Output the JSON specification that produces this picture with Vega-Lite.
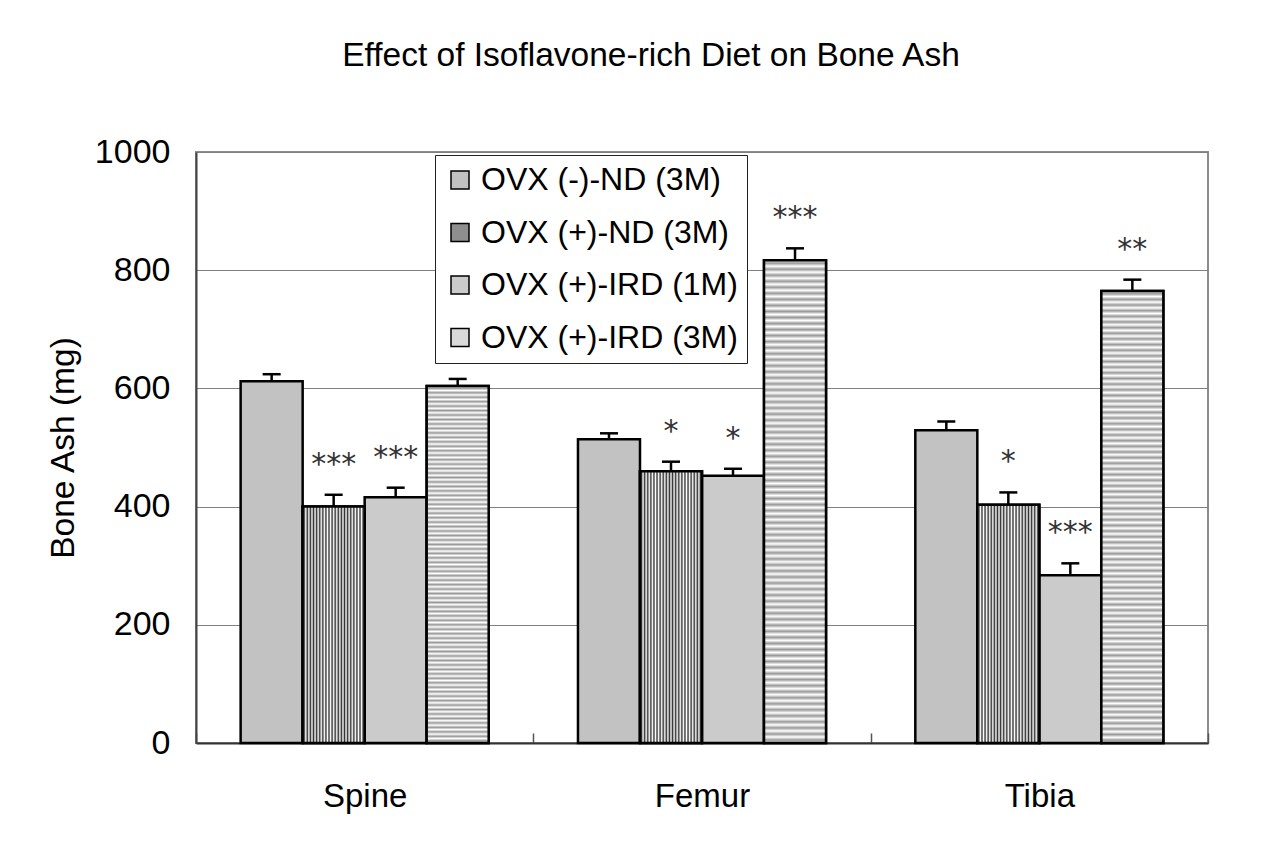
{
  "$schema": "https://vega.github.io/schema/vega-lite/v6.json",
  "width": 1012,
  "height": 591,
  "autosize": {"type": "none"},
  "padding": {"left": 196, "top": 152, "right": 75, "bottom": 99},
  "background": "white",
  "title": {"text": "Effect of Isoflavone-rich Diet on Bone Ash", "fontSize": 33.5, "fontWeight": "normal", "anchor": "middle", "frame": "group", "dx": -51, "offset": 36, "baseline": "alphabetic", "color": "black"},
  "config": {
    "font": "Liberation Sans",
    "view": {"stroke": "#8c8c8c", "strokeWidth": 2},
    "axis": {"labelColor": "black", "titleColor": "black"}
  },
  "data": {"values": [
    {"part": "Spine", "group": "OVX (-)-ND (3M)", "value": 612, "hi": 624, "sig": ""},
    {"part": "Spine", "group": "OVX (+)-ND (3M)", "value": 400, "hi": 420, "sig": "***"},
    {"part": "Spine", "group": "OVX (+)-IRD (1M)", "value": 416, "hi": 432, "sig": "***"},
    {"part": "Spine", "group": "OVX (+)-IRD (3M)", "value": 604, "hi": 616, "sig": ""},
    {"part": "Femur", "group": "OVX (-)-ND (3M)", "value": 514, "hi": 524, "sig": ""},
    {"part": "Femur", "group": "OVX (+)-ND (3M)", "value": 460, "hi": 476, "sig": "*"},
    {"part": "Femur", "group": "OVX (+)-IRD (1M)", "value": 452, "hi": 464, "sig": "*"},
    {"part": "Femur", "group": "OVX (+)-IRD (3M)", "value": 817, "hi": 837, "sig": "***"},
    {"part": "Tibia", "group": "OVX (-)-ND (3M)", "value": 529, "hi": 544, "sig": ""},
    {"part": "Tibia", "group": "OVX (+)-ND (3M)", "value": 403, "hi": 424, "sig": "*"},
    {"part": "Tibia", "group": "OVX (+)-IRD (1M)", "value": 284, "hi": 304, "sig": "***"},
    {"part": "Tibia", "group": "OVX (+)-IRD (3M)", "value": 765, "hi": 784, "sig": "**"}
  ]},
  "encoding": {
    "x": {"field": "part", "type": "nominal", "sort": ["Spine", "Femur", "Tibia"],
      "scale": {"domain": ["Spine", "Femur", "Tibia"], "paddingInner": 0, "paddingOuter": 0},
      "axis": {"title": null, "labelAngle": 0, "labelFontSize": 33, "labelPadding": 47, "tickBand": "extent", "tickSize": -10, "tickColor": "#555", "tickWidth": 1.5, "domainColor": "#333", "domainWidth": 2, "grid": false}},
    "xOffset": {"field": "group", "type": "nominal",
      "scale": {"domain": ["OVX (-)-ND (3M)", "OVX (+)-ND (3M)", "OVX (+)-IRD (1M)", "OVX (+)-IRD (3M)"], "paddingInner": 0, "paddingOuter": 0.72}},
    "y": {"field": "value", "type": "quantitative",
      "scale": {"domain": [0, 1000], "nice": false},
      "axis": {"title": "Bone Ash (mg)", "titleFontSize": 33.5, "titleFontWeight": "normal", "titleX": -123, "titleY": 295.5, "titleBaseline": "alphabetic", "titleAngle": -90,
        "values": [0, 200, 400, 600, 800, 1000], "format": "d", "labelFontSize": 34, "labelPadding": 26, "ticks": false,
        "grid": true, "gridColor": "#808080", "gridWidth": 1, "domainColor": "#444", "domainWidth": 2}}
  },
  "layer": [
    {
      "mark": {"type": "bar", "stroke": "black", "strokeWidth": 2.5},
      "encoding": {
        "color": {"field": "group", "type": "nominal",
          "scale": {"domain": ["OVX (-)-ND (3M)", "OVX (+)-ND (3M)", "OVX (+)-IRD (1M)", "OVX (+)-IRD (3M)"],
            "range": ["#c2c2c2", "#8e8e8e", "#cbcbcb", "#dadada"]},
          "legend": {"title": null, "orient": "none", "legendX": 239, "legendY": 3, "direction": "vertical",
            "padding": 9, "strokeColor": "#222", "fillColor": "white",
            "labelFontSize": 32, "labelColor": "black", "labelOffset": 5, "labelLimit": 400,
            "symbolType": "square", "symbolSize": 324, "symbolStrokeColor": "black", "symbolStrokeWidth": 1.5, "symbolOpacity": 1,
            "rowPadding": 20.5}}
      }
    },
    {
      "transform": [{"filter": "datum.group === 'OVX (+)-ND (3M)'"}],
      "mark": {"type": "bar", "stroke": "black", "strokeWidth": 2.5,
        "fill": {"gradient": "linear", "x1": 0, "y1": 0, "x2": 1, "y2": 0, "stops": [
          {"offset": 0, "color": "#ffffff"}, {"offset": 0.025, "color": "#333333"},
          {"offset": 0.05, "color": "#ffffff"}, {"offset": 0.075, "color": "#333333"},
          {"offset": 0.1, "color": "#ffffff"}, {"offset": 0.125, "color": "#333333"},
          {"offset": 0.15, "color": "#ffffff"}, {"offset": 0.175, "color": "#333333"},
          {"offset": 0.2, "color": "#ffffff"}, {"offset": 0.225, "color": "#333333"},
          {"offset": 0.25, "color": "#ffffff"}, {"offset": 0.275, "color": "#333333"},
          {"offset": 0.3, "color": "#ffffff"}, {"offset": 0.325, "color": "#333333"},
          {"offset": 0.35, "color": "#ffffff"}, {"offset": 0.375, "color": "#333333"},
          {"offset": 0.4, "color": "#ffffff"}, {"offset": 0.425, "color": "#333333"},
          {"offset": 0.45, "color": "#ffffff"}, {"offset": 0.475, "color": "#333333"},
          {"offset": 0.5, "color": "#ffffff"}, {"offset": 0.525, "color": "#333333"},
          {"offset": 0.55, "color": "#ffffff"}, {"offset": 0.575, "color": "#333333"},
          {"offset": 0.6, "color": "#ffffff"}, {"offset": 0.625, "color": "#333333"},
          {"offset": 0.65, "color": "#ffffff"}, {"offset": 0.675, "color": "#333333"},
          {"offset": 0.7, "color": "#ffffff"}, {"offset": 0.725, "color": "#333333"},
          {"offset": 0.75, "color": "#ffffff"}, {"offset": 0.775, "color": "#333333"},
          {"offset": 0.8, "color": "#ffffff"}, {"offset": 0.825, "color": "#333333"},
          {"offset": 0.85, "color": "#ffffff"}, {"offset": 0.875, "color": "#333333"},
          {"offset": 0.9, "color": "#ffffff"}, {"offset": 0.925, "color": "#333333"},
          {"offset": 0.95, "color": "#ffffff"}, {"offset": 0.975, "color": "#333333"},
          {"offset": 1, "color": "#ffffff"}
        ]}},
      "encoding": {}
    },
    {
      "transform": [{"filter": "datum.group === 'OVX (+)-IRD (3M)'"}],
      "mark": {"type": "bar", "stroke": "black", "strokeWidth": 2.5,
        "fill": {"gradient": "linear", "x1": 0, "y1": 0, "x2": 0, "y2": 1, "stops": [
          {"offset": 0, "color": "#fff"}, {"offset": 0.00625, "color": "#999"}, {"offset": 0.0125, "color": "#fff"}, {"offset": 0.01875, "color": "#999"}, {"offset": 0.025, "color": "#fff"}, {"offset": 0.03125, "color": "#999"}, {"offset": 0.0375, "color": "#fff"}, {"offset": 0.04375, "color": "#999"},
          {"offset": 0.05, "color": "#fff"}, {"offset": 0.05625, "color": "#999"}, {"offset": 0.0625, "color": "#fff"}, {"offset": 0.06875, "color": "#999"}, {"offset": 0.075, "color": "#fff"}, {"offset": 0.08125, "color": "#999"}, {"offset": 0.0875, "color": "#fff"}, {"offset": 0.09375, "color": "#999"},
          {"offset": 0.1, "color": "#fff"}, {"offset": 0.10625, "color": "#999"}, {"offset": 0.1125, "color": "#fff"}, {"offset": 0.11875, "color": "#999"}, {"offset": 0.125, "color": "#fff"}, {"offset": 0.13125, "color": "#999"}, {"offset": 0.1375, "color": "#fff"}, {"offset": 0.14375, "color": "#999"},
          {"offset": 0.15, "color": "#fff"}, {"offset": 0.15625, "color": "#999"}, {"offset": 0.1625, "color": "#fff"}, {"offset": 0.16875, "color": "#999"}, {"offset": 0.175, "color": "#fff"}, {"offset": 0.18125, "color": "#999"}, {"offset": 0.1875, "color": "#fff"}, {"offset": 0.19375, "color": "#999"},
          {"offset": 0.2, "color": "#fff"}, {"offset": 0.20625, "color": "#999"}, {"offset": 0.2125, "color": "#fff"}, {"offset": 0.21875, "color": "#999"}, {"offset": 0.225, "color": "#fff"}, {"offset": 0.23125, "color": "#999"}, {"offset": 0.2375, "color": "#fff"}, {"offset": 0.24375, "color": "#999"},
          {"offset": 0.25, "color": "#fff"}, {"offset": 0.25625, "color": "#999"}, {"offset": 0.2625, "color": "#fff"}, {"offset": 0.26875, "color": "#999"}, {"offset": 0.275, "color": "#fff"}, {"offset": 0.28125, "color": "#999"}, {"offset": 0.2875, "color": "#fff"}, {"offset": 0.29375, "color": "#999"},
          {"offset": 0.3, "color": "#fff"}, {"offset": 0.30625, "color": "#999"}, {"offset": 0.3125, "color": "#fff"}, {"offset": 0.31875, "color": "#999"}, {"offset": 0.325, "color": "#fff"}, {"offset": 0.33125, "color": "#999"}, {"offset": 0.3375, "color": "#fff"}, {"offset": 0.34375, "color": "#999"},
          {"offset": 0.35, "color": "#fff"}, {"offset": 0.35625, "color": "#999"}, {"offset": 0.3625, "color": "#fff"}, {"offset": 0.36875, "color": "#999"}, {"offset": 0.375, "color": "#fff"}, {"offset": 0.38125, "color": "#999"}, {"offset": 0.3875, "color": "#fff"}, {"offset": 0.39375, "color": "#999"},
          {"offset": 0.4, "color": "#fff"}, {"offset": 0.40625, "color": "#999"}, {"offset": 0.4125, "color": "#fff"}, {"offset": 0.41875, "color": "#999"}, {"offset": 0.425, "color": "#fff"}, {"offset": 0.43125, "color": "#999"}, {"offset": 0.4375, "color": "#fff"}, {"offset": 0.44375, "color": "#999"},
          {"offset": 0.45, "color": "#fff"}, {"offset": 0.45625, "color": "#999"}, {"offset": 0.4625, "color": "#fff"}, {"offset": 0.46875, "color": "#999"}, {"offset": 0.475, "color": "#fff"}, {"offset": 0.48125, "color": "#999"}, {"offset": 0.4875, "color": "#fff"}, {"offset": 0.49375, "color": "#999"},
          {"offset": 0.5, "color": "#fff"}, {"offset": 0.50625, "color": "#999"}, {"offset": 0.5125, "color": "#fff"}, {"offset": 0.51875, "color": "#999"}, {"offset": 0.525, "color": "#fff"}, {"offset": 0.53125, "color": "#999"}, {"offset": 0.5375, "color": "#fff"}, {"offset": 0.54375, "color": "#999"},
          {"offset": 0.55, "color": "#fff"}, {"offset": 0.55625, "color": "#999"}, {"offset": 0.5625, "color": "#fff"}, {"offset": 0.56875, "color": "#999"}, {"offset": 0.575, "color": "#fff"}, {"offset": 0.58125, "color": "#999"}, {"offset": 0.5875, "color": "#fff"}, {"offset": 0.59375, "color": "#999"},
          {"offset": 0.6, "color": "#fff"}, {"offset": 0.60625, "color": "#999"}, {"offset": 0.6125, "color": "#fff"}, {"offset": 0.61875, "color": "#999"}, {"offset": 0.625, "color": "#fff"}, {"offset": 0.63125, "color": "#999"}, {"offset": 0.6375, "color": "#fff"}, {"offset": 0.64375, "color": "#999"},
          {"offset": 0.65, "color": "#fff"}, {"offset": 0.65625, "color": "#999"}, {"offset": 0.6625, "color": "#fff"}, {"offset": 0.66875, "color": "#999"}, {"offset": 0.675, "color": "#fff"}, {"offset": 0.68125, "color": "#999"}, {"offset": 0.6875, "color": "#fff"}, {"offset": 0.69375, "color": "#999"},
          {"offset": 0.7, "color": "#fff"}, {"offset": 0.70625, "color": "#999"}, {"offset": 0.7125, "color": "#fff"}, {"offset": 0.71875, "color": "#999"}, {"offset": 0.725, "color": "#fff"}, {"offset": 0.73125, "color": "#999"}, {"offset": 0.7375, "color": "#fff"}, {"offset": 0.74375, "color": "#999"},
          {"offset": 0.75, "color": "#fff"}, {"offset": 0.75625, "color": "#999"}, {"offset": 0.7625, "color": "#fff"}, {"offset": 0.76875, "color": "#999"}, {"offset": 0.775, "color": "#fff"}, {"offset": 0.78125, "color": "#999"}, {"offset": 0.7875, "color": "#fff"}, {"offset": 0.79375, "color": "#999"},
          {"offset": 0.8, "color": "#fff"}, {"offset": 0.80625, "color": "#999"}, {"offset": 0.8125, "color": "#fff"}, {"offset": 0.81875, "color": "#999"}, {"offset": 0.825, "color": "#fff"}, {"offset": 0.83125, "color": "#999"}, {"offset": 0.8375, "color": "#fff"}, {"offset": 0.84375, "color": "#999"},
          {"offset": 0.85, "color": "#fff"}, {"offset": 0.85625, "color": "#999"}, {"offset": 0.8625, "color": "#fff"}, {"offset": 0.86875, "color": "#999"}, {"offset": 0.875, "color": "#fff"}, {"offset": 0.88125, "color": "#999"}, {"offset": 0.8875, "color": "#fff"}, {"offset": 0.89375, "color": "#999"},
          {"offset": 0.9, "color": "#fff"}, {"offset": 0.90625, "color": "#999"}, {"offset": 0.9125, "color": "#fff"}, {"offset": 0.91875, "color": "#999"}, {"offset": 0.925, "color": "#fff"}, {"offset": 0.93125, "color": "#999"}, {"offset": 0.9375, "color": "#fff"}, {"offset": 0.94375, "color": "#999"},
          {"offset": 0.95, "color": "#fff"}, {"offset": 0.95625, "color": "#999"}, {"offset": 0.9625, "color": "#fff"}, {"offset": 0.96875, "color": "#999"}, {"offset": 0.975, "color": "#fff"}, {"offset": 0.98125, "color": "#999"}, {"offset": 0.9875, "color": "#fff"}, {"offset": 0.99375, "color": "#999"},
          {"offset": 1, "color": "#fff"}
        ]}},
      "encoding": {}
    },
    {
      "mark": {"type": "rule", "stroke": "black", "strokeWidth": 2.5},
      "encoding": {"y": {"field": "hi", "type": "quantitative"}, "y2": {"field": "value"}}
    },
    {
      "mark": {"type": "tick", "color": "black", "thickness": 2.5, "size": 18, "opacity": 1},
      "encoding": {"y": {"field": "hi", "type": "quantitative"}}
    },
    {
      "mark": {"type": "text", "font": "DejaVu Sans", "fontSize": 30, "color": "#333", "baseline": "alphabetic", "dy": -21},
      "encoding": {"y": {"field": "hi", "type": "quantitative"}, "text": {"field": "sig"}}
    }
  ]
}
